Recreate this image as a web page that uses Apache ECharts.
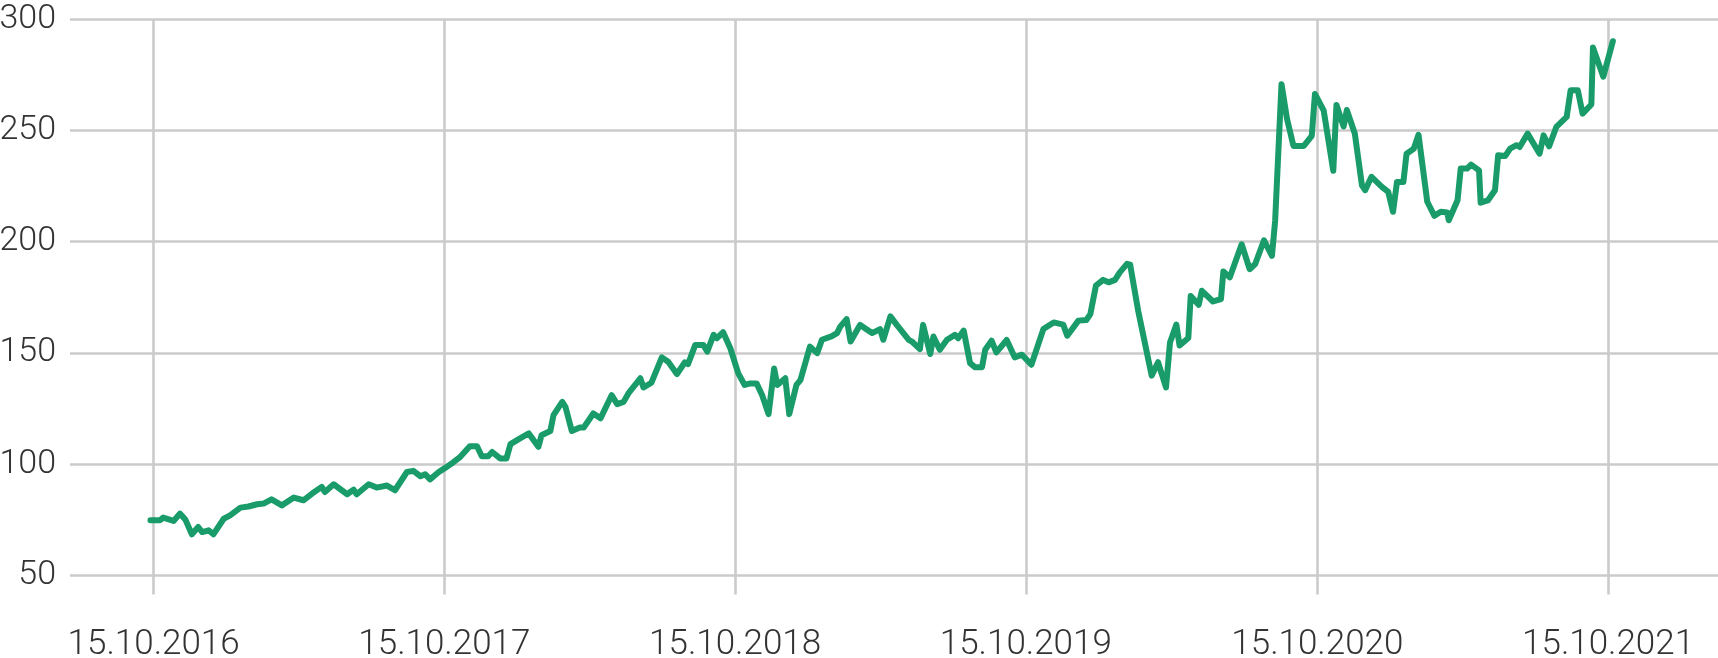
<!DOCTYPE html>
<html>
<head>
<meta charset="utf-8">
<script src="https://cdn.jsdelivr.net/npm/echarts@6/dist/echarts.min.js"></script>
<style>
html,body{margin:0;padding:0;background:#fff;}
#chart{width:1718px;height:658px;}
</style>
</head>
<body>
<div id="chart"></div>
<script>
// Reference date for the day offsets
const startDate = '2016-10-15';
// Days after 15.10.2016 for each point of the line
const dayOffsets = [-4,8,12,25,33,40,48,56,61,69,75,88,96,109,119,130,138,148,161,176,188,199,211,215,226,243,251,255,270,280,293,303,318,326,335,341,347,358,
360,368,376,385,397,406,412,420,425,435,443,448,460,471,483,487,498,502,513,517,525,535,540,552,561,575,582,590,596,611,615,625,638,646,657,667,671,680,690,695,703,707,715,
724,734,742,749,757,764,772,779,783,793,798,807,812,824,833,839,851,858,862,870,875,887,893,902,912,916,925,933,948,952,962,966,975,979,987,996,1006,1010,1017,1025,1031,1040,
1044,1052,1058,1071,1081,1090,1102,1117,1130,1142,1147,1161,1171,1176,1183,1192,1199,1207,1213,1222,1226,1236,1253,1261,1271,1276,1284,1288,1299,1302,1312,1316,1330,1340,1343,1351,1366,1376,1383,1394,1404,1408,
1416,1423,1431,1444,1454,1458,1469,1481,1485,1494,1498,1508,1517,1521,1529,1542,1550,1556,1561,1569,1573,1582,1588,1599,1608,1616,1624,1626,1637,1641,1649,1654,1664,1666,1675,1684,1688,1697,1703,1711,1715,1725,1740,1745,1752,1761,1774,1779,1788,1794,1805,1807,1820,1832];
// Values of the line
const values = [74.8,74.8,76,74.5,77.8,75,68.5,71.8,69.5,70.3,68.5,75.5,77,80.5,81,82,82.3,84.2,81.5,85,83.8,86.8,89.8,87.5,91,86.5,88.6,86.5,91,89.5,90.4,88.3,96.5,97,94.6,95.5,93.2,96.5,
97.3,98.8,100.8,103.3,108.1,108.1,103.6,103.6,105.5,102.6,102.6,109,111.6,113.8,107.8,113,114.9,122,128,125.8,114.9,116.5,116.5,122.8,120.6,131,127,128,131.8,138.6,134.5,136.6,148,146,140.5,145.8,145,153.6,153.6,150.6,158.1,156.6,159.3,
152.1,140.8,135.6,136.3,136.3,131,122.5,143,135.6,138.6,122.5,135.6,137.8,152.8,149.9,155.9,157.4,158.9,161.8,165.2,155.1,162.6,161.1,158.9,160.7,155.9,166.4,162.6,155.9,155.1,151.7,162.6,149.5,157.4,151.4,155.9,158.1,156.6,160,145.4,143.6,143.6,
151.4,155.5,150.2,155.8,148,149.2,144.7,160.7,163.7,162.7,157.7,164.5,164.8,167.4,180.2,182.8,181.7,182.8,186.2,190,189.6,169,139.8,145.8,134.5,154.7,162.7,153.3,156.7,175.6,171.6,177.9,173.1,174.2,186.6,183.9,198.8,187.6,189.9,200.6,193.6,209.3,
270.7,255,243,243,247.5,266.3,258.8,231.8,261.4,251.7,259.1,248.6,225.3,223.1,229.1,224.6,222.3,213.4,226.8,226.8,239.5,241.7,248,217.9,211.6,213.4,213.1,209.6,218.6,232.8,232.8,234.6,232,217.5,218.5,223.1,238.8,238.5,241.8,243.3,242.5,248.5,239.5,247.7,242.8,251.5,256,268,268,257.5,261.6,287.2,274.1,290];
// Tick dates and labels on the x axis
const tickDates = ['2016-10-15','2017-10-15','2018-10-15','2019-10-15','2020-10-15','2021-10-15'];
const tickLabels = ['15.10.2016','15.10.2017','15.10.2018','15.10.2019','15.10.2020','15.10.2021'];
// y axis
const yMin = 50, yMax = 300, yStep = 50;
// x axis extent (days relative to startDate)
const xMinDay = -105, xMaxDay = 1964;

const DAY = 86400000;
const t0 = Date.parse(startDate + 'T00:00:00Z');
const tickTimes = tickDates.map(d => Date.parse(d + 'T00:00:00Z'));
const seriesData = dayOffsets.map((d, i) => [t0 + d * DAY, values[i]]);

const gridColor = '#cbcbcb';
const textColor = '#333333';
const font = 'Roboto';

const chart = echarts.init(document.getElementById('chart'), null, {renderer: 'canvas'});
chart.setOption({
  animation: false,
  grid: {left: 70, right: 0, top: 19, bottom: 82.5, containLabel: false, outerBoundsMode: 'none'},
  xAxis: {
    type: 'value',
    min: t0 + xMinDay * DAY,
    max: t0 + xMaxDay * DAY,
    axisLine: {show: false},
    axisTick: {show: true, length: 19, customValues: tickTimes, lineStyle: {color: gridColor, width: 2.6}},
    splitLine: {show: true, lineStyle: {color: gridColor, width: 2.6}},
    axisLabel: {
      customValues: tickTimes,
      margin: 52,
      color: textColor,
      fontFamily: font,
      fontWeight: 300,
      fontSize: 35,
      formatter: function (v) {
        let best = 0;
        for (let i = 1; i < tickTimes.length; i++) {
          if (Math.abs(tickTimes[i] - v) < Math.abs(tickTimes[best] - v)) best = i;
        }
        return tickLabels[best];
      }
    }
  },
  yAxis: {
    type: 'value',
    min: yMin, max: yMax, interval: yStep,
    axisLine: {show: false},
    axisTick: {show: false},
    splitLine: {show: true, lineStyle: {color: gridColor, width: 2.6}},
    axisLabel: {margin: 14, color: textColor, fontFamily: font, fontWeight: 300, fontSize: 34}
  },
  series: [{
    type: 'line',
    data: seriesData,
    showSymbol: false,
    symbol: 'none',
    lineStyle: {color: '#199c69', width: 6, join: 'round', cap: 'round'},
    z: 5
  }]
});
</script>
</body>
</html>
